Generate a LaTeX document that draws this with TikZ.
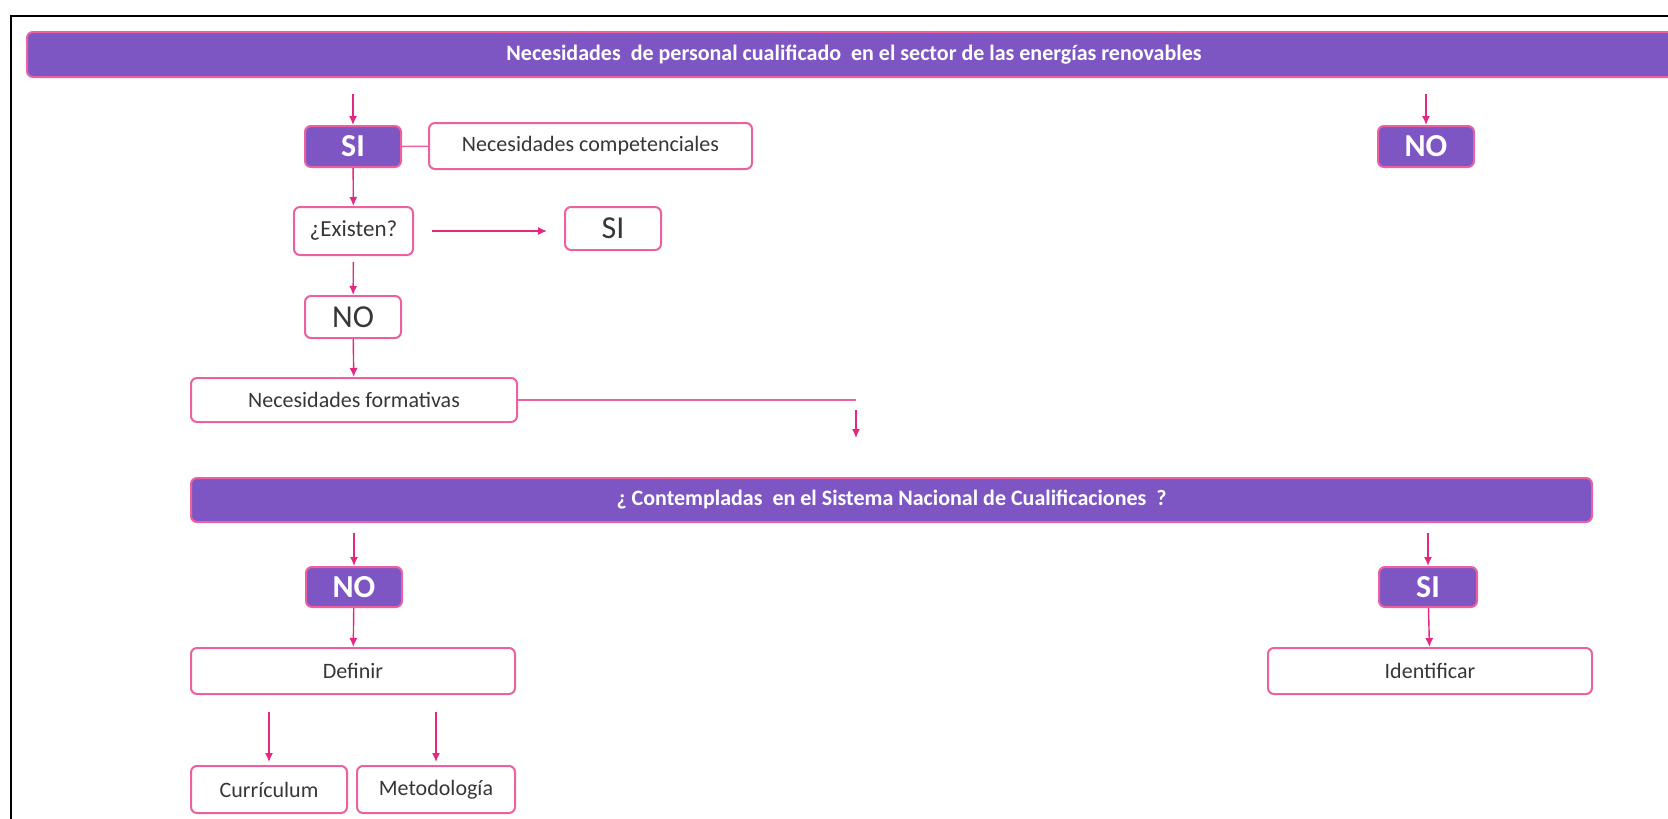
\documentclass[tikz,border=0pt]{standalone}
\usepackage{fontspec}
\setmainfont{Carlito}
\usepackage{tikz}
\usetikzlibrary{arrows.meta,positioning}

\definecolor{lila}{RGB}{126,86,196}
\definecolor{rosa}{RGB}{236,96,160}
\definecolor{flecha}{RGB}{228,40,128}
\definecolor{texto}{RGB}{55,55,55}

\begin{document}
\begin{tikzpicture}[
    x=1pt, y=-1pt,
    box/.style={
        draw=rosa,
        line width=2pt,
        rounded corners=6pt,
        align=center,
        fill=white,
        text=texto,
        font=\fontsize{22}{26}\selectfont,
        inner sep=0pt
    },
    banner/.style={
        box,
        fill=lila,
        text=white,
        font=\fontsize{22}{26}\selectfont\bfseries
    },
    tag/.style={
        box,
        fill=lila,
        text=white,
        font=\fontsize{32}{34}\selectfont\bfseries,
        minimum width=96pt,
        minimum height=41pt
    },
    answer/.style={
        box,
        font=\fontsize{32}{34}\selectfont,
        minimum width=96pt,
        minimum height=42pt
    },
    edge/.style={-{Latex[length=9pt,width=8pt]}, flecha, line width=1.4pt},
    link/.style={rosa, line width=1.4pt}
]
\useasboundingbox (0,0) rectangle (1668,819);
\draw[line width=2.5pt] (11,830) |- (1680,16);

% first question
\node[banner, minimum width=1654pt, minimum height=45pt] (title) at (854,54.5)
    {Necesidades \ de personal cualificado \ en el sector de las energías renovables};

\node[tag] (sitop) at (353,146.5) {SI};
\node[box, minimum width=323pt, minimum height=46pt] (comp) at (590.5,146) {Necesidades competenciales};
\node[tag] (notop) at (1426,146.5) {NO};

\node[box, minimum width=119pt, minimum height=48pt, font=\fontsize{23}{26}\selectfont] (existen) at (353.5,231) {¿Existen?};
\node[answer, minimum height=43pt] (siright) at (613,228.5) {SI};
\node[answer] (noleft) at (353,317) {NO};
\node[box, minimum width=326pt, minimum height=44pt] (formativas) at (354,400) {Necesidades formativas};
\coordinate (drop) at (856,438);

% second question
\node[banner, minimum width=1401pt, minimum height=44pt] (snc) at (891.5,500)
    {¿ Contempladas \ en el Sistema Nacional de Cualificaciones \ ?};

\node[tag, minimum height=40pt] (nobottom) at (354,587) {NO};
\node[box, minimum width=324pt, minimum height=46pt] (definir) at (353,671) {Definir};
\node[box, minimum width=156pt, minimum height=47pt] (curriculum) at (269,789.5) {Currículum};
\node[box, minimum width=158pt, minimum height=47pt] (metodologia) at (436,789.5) {Metodología};

\node[tag, minimum width=98pt, minimum height=40pt] (sibottom) at (1428,587) {SI};
\node[box, minimum width=324pt, minimum height=46pt] (identificar) at (1430,671) {Identificar};

\draw[edge, shorten <=16pt] (title.south -| sitop.north) -- (sitop);
\draw[edge, shorten <=16pt] (title.south -| notop.north) -- (notop);
\draw[link] (sitop) -- (comp);
\draw[edge] (sitop) -- (existen);
\draw[edge, shorten <=18pt, shorten >=17pt] (existen.east) -- (existen.east -| siright.west);
\draw[edge, shorten <=6pt] (existen) -- (noleft);
\draw[edge] (noleft) -- (formativas);
\draw[link] (formativas.east) -- (formativas.east -| drop) coordinate (bend);
\draw[edge, shorten <=10pt] (bend) -- (drop);

\draw[edge, shorten <=10pt] (snc.south -| nobottom.north) -- (nobottom);
\draw[edge, shorten <=10pt] (snc.south -| sibottom.north) -- (sibottom);
\draw[edge] (nobottom) -- (definir);
\draw[edge] (sibottom) -- (identificar);
\draw[edge, shorten <=17pt, shorten >=3pt] (definir.south -| curriculum.north) -- (curriculum);
\draw[edge, shorten <=17pt, shorten >=3pt] (definir.south -| metodologia.north) -- (metodologia);
\end{tikzpicture}
\end{document}
